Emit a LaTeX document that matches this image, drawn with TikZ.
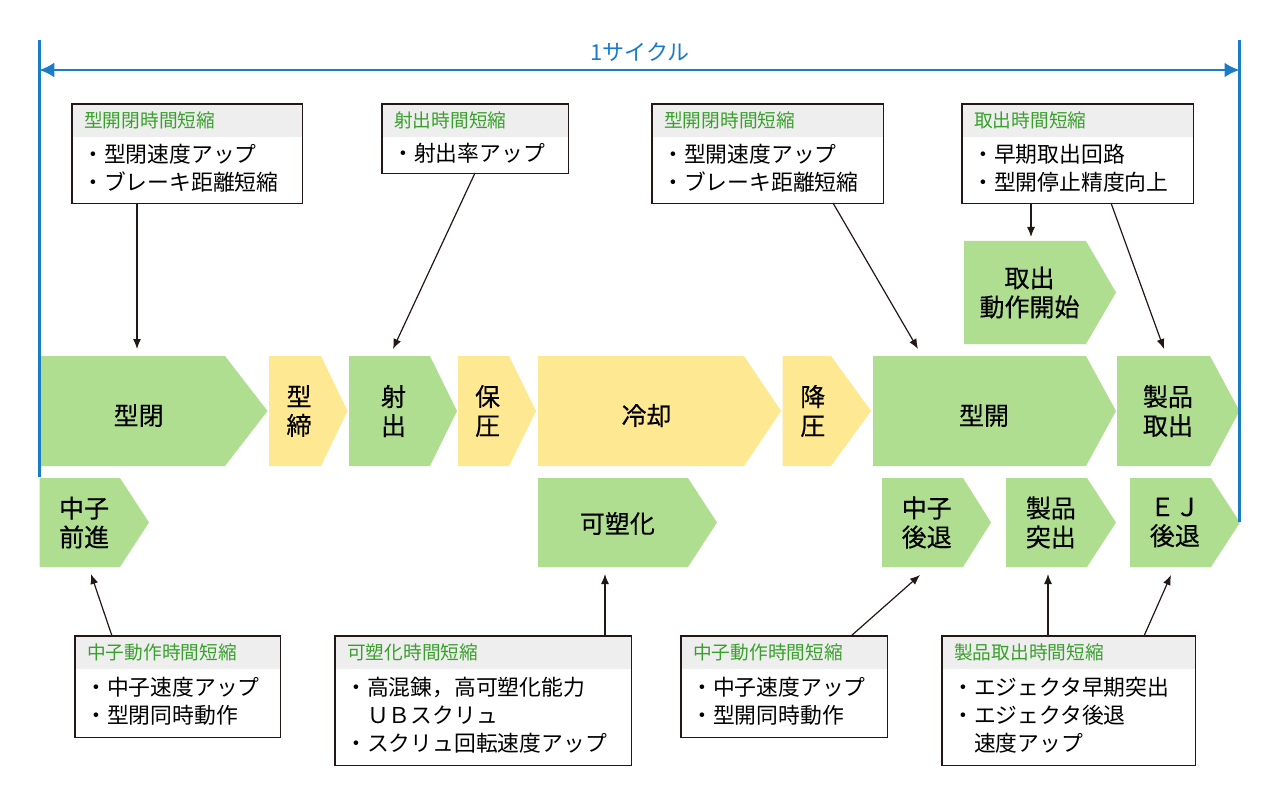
\documentclass[tikz,border=0pt]{standalone}
\usepackage{fontspec}
\setmainfont{Noto Sans CJK JP}
\newfontfamily\chevfont{Noto Sans CJK JP}[FakeBold=0.3]
\usetikzlibrary{arrows.meta}
\definecolor{cgreen}{RGB}{176,222,145}
\definecolor{cyellow}{RGB}{254,232,145}
\definecolor{hgray}{RGB}{238,238,238}
\definecolor{hgreen}{RGB}{58,160,45}
\definecolor{cblue}{RGB}{26,124,199}
\definecolor{ink}{RGB}{35,24,21}
\tikzset{
  ctext/.style={font=\chevfont\fontsize{25}{29}\selectfont, align=center, inner sep=0pt, text=black},
  hdr/.style={fill=hgray, text=hgreen, font=\fontsize{18.7}{20}\selectfont, align=left, inner xsep=12pt, inner ysep=0pt, minimum height=33pt},
  bdy/.style={text=black, font=\fontsize{21.8}{28}\selectfont, align=left, inner xsep=10pt, inner ysep=0pt},
  boxline/.style={draw=ink, line width=1.2pt},
  arr/.style={draw=ink, line width=1.2pt, -{Latex[length=10pt,width=8pt]}},
  blueline/.style={draw=cblue, line width=2.6pt}
}
\newcommand{\chev}[9][0]{%
  \fill[#8] (#3,#6) -- (#4,#6) -- (#5,{(#6+#7)/2}) -- (#4,#7) -- (#3,#7) -- cycle;
  \node[ctext] (#2) at ({(#3+#4)/2+0.15*(#5-#4)},{(#6+#7)/2+#1}) {#9};
}
\newcommand{\infobox}[7]{%
  \pgfmathsetmacro{\bxhw}{#4-24}%
  \pgfmathsetmacro{\bxbw}{#4-20}%
  \pgfmathsetmacro{\bxbh}{#5-33-5}%
  \node[hdr, text width=\bxhw pt, anchor=north west] (#1h) at (#2,#3) {#6};
  \node[bdy, text width=\bxbw pt, minimum height=\bxbh pt, anchor=north west] (#1) at (#1h.south west) {#7};
  \draw[boxline] (#1h.north west) rectangle ([yshift=-5pt]#1.south east);
}
\begin{document}
\begin{tikzpicture}[x=1pt,y=-1pt]
\useasboundingbox (0,0) rectangle (1280,805);
\fill[white] (0,0) rectangle (1280,805);

% chevrons
\chev[4.5]{kaihei}{39.5}{225}{267.5}{356}{466}{cgreen}{型閉}
\chev{katajime}{269}{321}{347.5}{356}{466}{cyellow}{型\\締}
\chev{shashutsu}{349}{430}{457}{356}{466}{cgreen}{射\\出}
\chev{hoatsu}{458}{509}{536}{356}{466}{cyellow}{保\\圧}
\chev[4.5]{reikyaku}{538}{744}{781}{356}{466}{cyellow}{冷却}
\chev{koatsu}{782.5}{831}{871}{356}{466}{cyellow}{降\\圧}
\chev[4.5]{katabiraki}{873}{1086}{1116}{356}{466}{cgreen}{型開}
\chev{seihin}{1117}{1210}{1239.5}{356}{466}{cgreen}{製品\\取出}
\chev{toridashi}{964}{1086}{1116}{241}{344}{cgreen}{取出\\動作開始}
\chev{nakago}{39.5}{120}{149}{478}{567}{cgreen}{中子\\前進}
\chev[1]{kaso}{538}{688}{717}{478}{567}{cgreen}{可塑化}
\chev{nakagoback}{882}{963}{991}{478}{567}{cgreen}{中子\\後退}
\chev{tsukidashi}{1006}{1087}{1116}{478}{567}{cgreen}{製品\\突出}
\chev{ejback}{1130}{1211}{1240}{478}{567}{cgreen}{ＥＪ\\後退}

% cycle marker
\coordinate (lt) at (39.3,40);
\coordinate (lb) at (39.3,477);
\coordinate (rt) at (1239.5,40);
\coordinate (rb) at (1239.5,522);
\coordinate (la) at (39.3,70);
\coordinate (ra) at (1239.5,70);
\draw[blueline] (lt) -- (lb);
\draw[blueline] (rt) -- (rb);
\draw[blueline, {Latex[length=15pt,width=15pt]}-{Latex[length=15pt,width=15pt]}] (la) -- (ra);
\node[text=cblue, font=\fontsize{22}{24}\selectfont, inner sep=0pt] (cyc) at (640,52.5) {1サイクル};

% top boxes
\infobox{b1}{72}{104}{230}{99}{型開閉時間短縮}{・型閉速度アップ\\・ブレーキ距離短縮}
\infobox{b2}{382}{104}{186}{69}{射出時間短縮}{・射出率アップ}
\infobox{b3}{652}{104}{231}{99}{型開閉時間短縮}{・型開速度アップ\\・ブレーキ距離短縮}
\infobox{b4}{962}{104}{231}{99}{取出時間短縮}{・早期取出回路\\・型開停止精度向上}

% bottom boxes
\infobox{c1}{75}{636}{205}{101}{中子動作時間短縮}{・中子速度アップ\\・型閉同時動作}
\infobox{c2}{335}{636}{296}{129}{可塑化時間短縮}{・高混錬，高可塑化能力\\　ＵＢスクリュ\\・スクリュ回転速度アップ}
\infobox{c3}{681}{636}{206}{101}{中子動作時間短縮}{・中子速度アップ\\・型開同時動作}
\infobox{c4}{942}{636}{253}{129}{製品取出時間短縮}{・エジェクタ早期突出\\・エジェクタ後退\\　速度アップ}

% top arrows
\coordinate (t1) at (137,349);
\coordinate (s2) at (475,173);
\coordinate (t2) at (393,349);
\coordinate (s3) at (833,203);
\coordinate (t3) at (918,349);
\coordinate (s4) at (1031,203);
\coordinate (t4) at (1031,237);
\coordinate (s5) at (1111,203);
\coordinate (t5) at (1164,349);
\draw[arr] (b1h.north -| t1) ++(0,99) -- (t1);
\draw[arr] (b2h.north -| s2) ++(0,69) -- (t2);
\draw[arr] (b3h.north -| s3) ++(0,99) -- (t3);
\draw[arr] (b4h.north -| s4) ++(0,99) -- (t4);
\draw[arr] (b4h.north -| s5) ++(0,99) -- (t5);

% bottom arrows
\coordinate (u1) at (112,636);
\coordinate (v1) at (91,574);
\coordinate (u2) at (605,636);
\coordinate (v2) at (605,574);
\coordinate (u3) at (851,636);
\coordinate (v3) at (920,575);
\coordinate (u4) at (1048,636);
\coordinate (v4) at (1048,574);
\coordinate (u5) at (1144,636);
\coordinate (v5) at (1171,575);
\draw[arr] (c1h.north -| u1) -- (v1);
\draw[arr] (c2h.north -| u2) -- (v2);
\draw[arr] (c3h.north -| u3) -- (v3);
\draw[arr] (c4h.north -| u4) -- (v4);
\draw[arr] (c4h.north -| u5) -- (v5);
\end{tikzpicture}
\end{document}
